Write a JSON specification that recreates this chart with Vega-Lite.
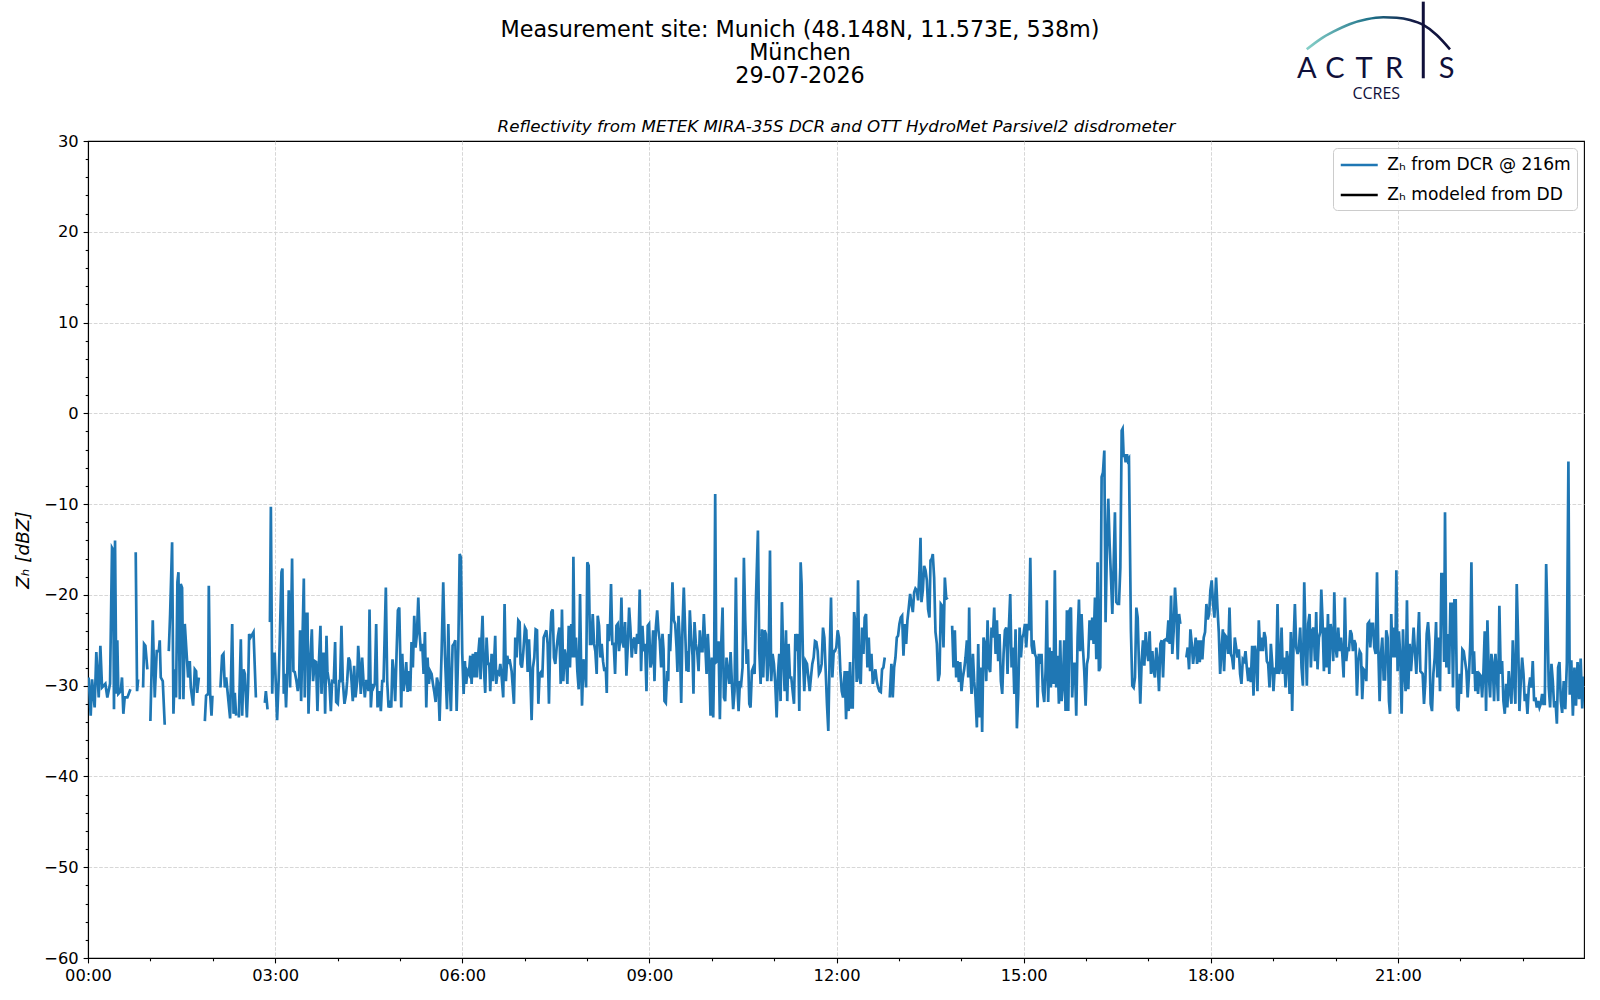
{
  "$schema": "https://vega.github.io/schema/vega-lite/v6.json",
  "description": "Reflectivity from METEK MIRA-35S DCR and OTT HydroMet Parsivel2 disdrometer, Munich 29-07-2026",
  "width": 1496,
  "height": 817,
  "autosize": {"type": "none"},
  "padding": {"left": 88, "top": 141, "right": 16, "bottom": 42},
  "background": "white",
  "title": {
    "text": ["Measurement site: Munich (48.148N, 11.573E, 538m)", "München", "29-07-2026"],
    "font": "DejaVu Sans",
    "fontSize": 22.3,
    "fontWeight": "normal",
    "color": "black",
    "lineHeight": 23,
    "anchor": "middle",
    "frame": "group",
    "dx": -36,
    "dy": 87,
    "offset": 0
  },
  "config": {
    "view": {"stroke": "black", "strokeWidth": 1.1},
    "font": "DejaVu Sans"
  },
  "datasets": {
    "dcr": [
      {"t":0.6,"z":-29.1},{"t":2.6,"z":-33.3},{"t":3.9,"z":-29.3},{"t":6.4,"z":-32.4},{"t":8.0,"z":-26.3},{"t":10.3,"z":-31.3},{"t":11.9,"z":-25.6},{"t":13.5,"z":-30.2},{"t":16.7,"z":-29.8},{"t":18.6,"z":-31.3},{"t":21.2,"z":-29.8},{"t":23.1,"z":-14.8},{"t":24.1,"z":-15.0},{"t":25.0,"z":-32.6},{"t":26.0,"z":-14.0},{"t":27.3,"z":-30.9},{"t":28.2,"z":-25.0},{"t":29.2,"z":-30.9},{"t":31.5,"z":-30.6},{"t":32.7,"z":-29.1},{"t":34.0,"z":-33.1},{"t":35.3,"z":-31.3},{"t":37.9,"z":-31.3},{"t":40.8,"z":-30.4},
      {"t":43,"z":null},
      {"t":45.9,"z":-15.3},{"t":47.2,"z":-30.6},{"t":48.2,"z":-29.3},
      {"t":50,"z":null},
      {"t":53.0,"z":-30.2},{"t":53.9,"z":-25.4},{"t":55.2,"z":-25.6},{"t":57.1,"z":-28.2},
      {"t":58.5,"z":null},
      {"t":60.0,"z":-33.9},{"t":62.3,"z":-22.8},{"t":64.2,"z":-31.3},{"t":66.1,"z":-26.2},{"t":68.1,"z":-26.2},{"t":69.0,"z":-25.0},{"t":70.0,"z":-29.1},{"t":71.9,"z":-29.5},{"t":73.8,"z":-34.3},
      {"t":75.5,"z":null},
      {"t":77.7,"z":-26.2},{"t":79.0,"z":-22.1},{"t":80.9,"z":-14.2},{"t":82.2,"z":-33.1},{"t":83.5,"z":-28.2},{"t":84.7,"z":-31.3},{"t":86.0,"z":-18.6},{"t":87.0,"z":-17.5},{"t":88.3,"z":-31.5},{"t":89.2,"z":-18.8},{"t":90.5,"z":-19.2},{"t":91.8,"z":-31.5},{"t":93.1,"z":-23.2},{"t":94.7,"z":-26.2},{"t":96.3,"z":-29.1},{"t":97.9,"z":-27.3},{"t":98.9,"z":-30.2},{"t":101.1,"z":-32.2},{"t":102.7,"z":-28.2},{"t":104.0,"z":-28.4},{"t":105.0,"z":-30.8},{"t":106.6,"z":-29.1},
      {"t":109,"z":null},
      {"t":112.4,"z":-33.9},{"t":113.6,"z":-31.1},{"t":115.6,"z":-30.9},{"t":116.2,"z":-19.0},{"t":117.5,"z":-30.9},{"t":118.8,"z":-33.3},{"t":119.7,"z":-31.1},
      {"t":123,"z":null},
      {"t":127.4,"z":-30.2},{"t":129.0,"z":-26.7},{"t":130.3,"z":-26.5},{"t":131.6,"z":-30.2},{"t":132.9,"z":-29.1},{"t":136.7,"z":-33.6},{"t":138.7,"z":-23.2},{"t":140.0,"z":-33.1},{"t":141.2,"z":-30.8},{"t":142.5,"z":-33.3},
      {"t":143.8,"z":null},
      {"t":145.1,"z":-33.5},{"t":147.0,"z":-24.9},{"t":148.3,"z":-33.3},{"t":149.6,"z":-28.2},{"t":150.9,"z":-28.7},{"t":152.8,"z":-33.5},{"t":154.1,"z":-29.8},{"t":155.0,"z":-24.3},{"t":156.3,"z":-24.7},{"t":159.2,"z":-24.1},{"t":161.5,"z":-31.3},
      {"t":165,"z":null},
      {"t":170.1,"z":-31.9},{"t":171.1,"z":-30.6},{"t":172.7,"z":-32.6},
      {"t":174,"z":null},
      {"t":175.0,"z":-23.0},{"t":175.9,"z":-10.3},{"t":177.2,"z":-30.9},{"t":178.2,"z":-26.5},
      {"t":179.6,"z":-26.5},{"t":181.9,"z":-33.8},{"t":183.5,"z":-29.1},{"t":186.1,"z":-17.5},{"t":187.0,"z":-17.1},{"t":188.3,"z":-30.9},{"t":189.3,"z":-28.7},{"t":190.5,"z":-32.4},{"t":191.8,"z":-28.0},{"t":193.1,"z":-19.5},{"t":194.4,"z":-30.2},{"t":196.3,"z":-16.0},{"t":197.6,"z":-28.4},{"t":198.9,"z":-28.5},{"t":200.5,"z":-29.5},{"t":201.8,"z":-30.6},{"t":203.1,"z":-29.1},{"t":204.0,"z":-23.9},{"t":205.0,"z":-31.7},{"t":206.3,"z":-25.0},{"t":207.6,"z":-18.2},{"t":208.5,"z":-31.3},{"t":209.8,"z":-22.1},{"t":211.1,"z":-22.1},{"t":212.1,"z":-33.1},{"t":213.7,"z":-27.4},{"t":215.3,"z":-23.8},{"t":216.5,"z":-29.5},{"t":218.2,"z":-27.3},{"t":219.4,"z":-27.4},{"t":220.7,"z":-32.8},{"t":222.3,"z":-26.9},{"t":223.6,"z":-23.4},{"t":224.6,"z":-30.9},{"t":225.9,"z":-26.5},{"t":227.1,"z":-26.5},{"t":228.1,"z":-33.1},{"t":229.4,"z":-24.5},{"t":230.3,"z":-28.4},{"t":232.3,"z":-30.0},{"t":233.6,"z":-32.8},{"t":234.8,"z":-29.5},{"t":236.4,"z":-29.6},{"t":237.7,"z":-25.2},{"t":238.7,"z":-31.8},{"t":240.3,"z":-32.0},{"t":241.6,"z":-29.5},{"t":242.5,"z":-29.5},{"t":243.8,"z":-23.4},{"t":245.1,"z":-29.5},{"t":246.7,"z":-32.0},{"t":248.3,"z":-30.9},{"t":249.3,"z":-29.5},{"t":250.6,"z":-26.9},{"t":251.9,"z":-27.3},{"t":253.5,"z":-29.5},{"t":254.7,"z":-31.7},{"t":256.0,"z":-27.8},{"t":257.3,"z":-31.3},{"t":258.9,"z":-29.5},{"t":259.9,"z":-25.6},{"t":261.2,"z":-28.0},{"t":262.4,"z":-30.9},{"t":263.7,"z":-26.9},{"t":265.0,"z":-29.5},{"t":266.3,"z":-31.3},{"t":267.6,"z":-29.5},{"t":268.9,"z":-29.5},{"t":269.8,"z":-30.6},{"t":270.8,"z":-21.6},{"t":272.1,"z":-32.4},{"t":273.4,"z":-29.8},{"t":274.6,"z":-30.2},{"t":275.9,"z":-29.8},{"t":277.2,"z":-23.2},{"t":278.5,"z":-32.4},{"t":280.1,"z":-30.6},{"t":281.7,"z":-32.8},{"t":283.0,"z":-29.5},{"t":284.3,"z":-29.5},{"t":286.5,"z":-19.2},{"t":287.8,"z":-29.5},{"t":289.1,"z":-32.4},{"t":290.4,"z":-32.0},{"t":291.7,"z":-32.4},{"t":292.9,"z":-27.1},{"t":294.2,"z":-28.7},{"t":295.5,"z":-31.7},{"t":296.8,"z":-26.5},{"t":298.1,"z":-21.7},{"t":299.4,"z":-21.4},{"t":300.3,"z":-26.5},{"t":301.3,"z":-32.4},{"t":302.3,"z":-26.5},{"t":303.5,"z":-30.6},{"t":304.8,"z":-29.5},{"t":306.1,"z":-27.4},{"t":307.4,"z":-30.7},{"t":308.7,"z":-28.4},{"t":310.0,"z":-30.6},{"t":311.2,"z":-25.2},{"t":312.5,"z":-28.0},{"t":313.8,"z":-22.3},{"t":315.1,"z":-25.8},{"t":316.4,"z":-24.3},{"t":317.7,"z":-20.3},{"t":318.9,"z":-24.1},{"t":320.2,"z":-26.2},{"t":321.5,"z":-25.4},{"t":322.8,"z":-28.7},{"t":324.1,"z":-24.1},{"t":325.4,"z":-32.4},{"t":326.6,"z":-26.9},{"t":327.9,"z":-29.8},{"t":329.2,"z":-28.4},{"t":330.5,"z":-28.7},{"t":331.8,"z":-29.8},{"t":333.1,"z":-30.7},{"t":334.4,"z":-31.8},{"t":335.6,"z":-29.1},{"t":336.9,"z":-29.8},{"t":338.2,"z":-33.9},{"t":340.1,"z":-26.5},{"t":341.7,"z":-18.6},{"t":343.3,"z":-26.5},{"t":345.3,"z":-32.6},{"t":346.6,"z":-23.2},{"t":347.8,"z":-29.5},{"t":349.1,"z":-32.8},{"t":350.7,"z":-25.6},{"t":352.0,"z":-25.4},{"t":353.3,"z":-25.0},{"t":354.6,"z":-32.8},{"t":356.2,"z":-25.8},{"t":357.5,"z":-15.5},{"t":358.7,"z":-15.9},{"t":360.0,"z":-26.5},{"t":361.3,"z":-30.9},
      {"t":362.5,"z":-27.3},{"t":363.8,"z":-29.8},{"t":365.1,"z":-28.4},{"t":366.4,"z":-28.7},{"t":367.7,"z":-26.7},{"t":369.0,"z":-29.8},{"t":370.2,"z":-26.5},{"t":371.5,"z":-29.1},{"t":372.8,"z":-26.3},{"t":374.1,"z":-29.1},{"t":375.4,"z":-26.5},{"t":376.7,"z":-24.7},{"t":377.6,"z":-29.3},{"t":378.6,"z":-24.7},{"t":379.5,"z":-22.3},{"t":380.8,"z":-28.0},{"t":382.1,"z":-30.8},{"t":383.4,"z":-24.7},{"t":384.7,"z":-27.6},{"t":386.0,"z":-27.6},{"t":386.9,"z":-30.6},{"t":388.2,"z":-26.5},{"t":389.5,"z":-29.5},{"t":390.8,"z":-26.9},{"t":391.7,"z":-24.5},{"t":392.7,"z":-29.8},{"t":394.0,"z":-28.5},{"t":395.3,"z":-28.7},{"t":396.6,"z":-27.6},{"t":397.8,"z":-28.9},{"t":399.4,"z":-31.3},{"t":400.7,"z":-21.0},{"t":402.0,"z":-29.5},{"t":403.3,"z":-26.7},{"t":404.6,"z":-27.6},{"t":405.5,"z":-27.1},{"t":407.5,"z":-28.4},{"t":409.7,"z":-32.0},{"t":411.0,"z":-24.7},{"t":412.3,"z":-26.9},{"t":413.9,"z":-22.8},{"t":415.2,"z":-23.0},{"t":416.1,"z":-27.6},{"t":417.4,"z":-28.0},{"t":418.7,"z":-26.3},{"t":420.3,"z":-23.6},{"t":421.6,"z":-23.9},{"t":422.9,"z":-28.5},{"t":424.2,"z":-24.9},{"t":425.4,"z":-28.4},{"t":426.7,"z":-33.8},{"t":428.0,"z":-28.0},{"t":429.3,"z":-26.9},{"t":430.6,"z":-23.8},{"t":431.9,"z":-23.9},{"t":433.2,"z":-32.0},{"t":434.4,"z":-28.7},{"t":435.7,"z":-28.5},{"t":437.0,"z":-29.1},{"t":438.3,"z":-24.7},{"t":439.6,"z":-24.3},{"t":440.9,"z":-23.9},{"t":442.1,"z":-25.4},{"t":443.4,"z":-32.0},{"t":444.7,"z":-24.5},{"t":445.7,"z":-21.9},{"t":447.0,"z":-21.6},{"t":448.2,"z":-26.9},{"t":449.5,"z":-27.6},{"t":450.8,"z":-25.8},{"t":452.1,"z":-24.5},{"t":453.4,"z":-23.6},{"t":454.7,"z":-29.8},{"t":455.9,"z":-21.6},{"t":457.2,"z":-29.5},{"t":458.5,"z":-26.0},{"t":459.8,"z":-26.9},{"t":461.1,"z":-29.8},{"t":462.4,"z":-23.4},{"t":463.6,"z":-28.0},{"t":464.9,"z":-23.2},{"t":466.2,"z":-26.9},{"t":466.9,"z":-15.8},{"t":468.1,"z":-26.9},{"t":469.4,"z":-24.7},{"t":470.7,"z":-28.4},{"t":472.0,"z":-30.4},{"t":473.3,"z":-19.9},{"t":474.2,"z":-26.9},{"t":475.2,"z":-32.2},{"t":476.5,"z":-27.1},{"t":477.8,"z":-28.0},{"t":479.1,"z":-30.2},{"t":480.3,"z":-16.4},{"t":481.6,"z":-16.8},{"t":482.9,"z":-25.4},{"t":484.2,"z":-25.4},{"t":485.5,"z":-22.1},{"t":486.8,"z":-25.4},{"t":488.0,"z":-26.2},{"t":489.3,"z":-28.7},{"t":490.3,"z":-22.3},{"t":491.6,"z":-23.4},{"t":492.9,"z":-26.9},{"t":494.1,"z":-25.4},{"t":495.4,"z":-27.3},{"t":496.7,"z":-28.4},{"t":498.0,"z":-28.0},{"t":499.0,"z":-30.8},{"t":499.9,"z":-23.2},{"t":501.2,"z":-25.1},{"t":502.2,"z":-23.2},{"t":503.1,"z":-18.8},{"t":504.4,"z":-25.4},{"t":505.7,"z":-25.4},{"t":507.0,"z":-28.7},{"t":508.3,"z":-23.4},{"t":509.5,"z":-23.2},{"t":510.8,"z":-26.2},{"t":512.1,"z":-24.7},{"t":513.1,"z":-20.3},{"t":514.0,"z":-25.1},{"t":515.3,"z":-25.8},{"t":516.6,"z":-23.0},{"t":517.9,"z":-28.9},{"t":519.2,"z":-25.6},{"t":520.5,"z":-21.4},{"t":521.7,"z":-23.6},{"t":523.0,"z":-26.9},{"t":524.3,"z":-25.1},{"t":525.6,"z":-24.7},{"t":526.9,"z":-26.5},{"t":528.2,"z":-24.3},{"t":529.5,"z":-25.4},{"t":530.7,"z":-19.4},{"t":532.0,"z":-28.4},{"t":533.3,"z":-23.4},{"t":534.6,"z":-26.2},{"t":535.9,"z":-25.4},{"t":537.2,"z":-30.6},{"t":538.4,"z":-23.4},{"t":539.7,"z":-23.2},{"t":541.0,"z":-28.0},{"t":542.3,"z":-27.3},{"t":543.6,"z":-23.9},{"t":544.9,"z":-29.5},
      {"t":546.2,"z":-23.6},{"t":547.5,"z":-21.7},{"t":548.7,"z":-23.9},{"t":550.0,"z":-25.1},{"t":551.3,"z":-28.0},{"t":552.6,"z":-24.3},{"t":553.6,"z":-26.0},{"t":554.5,"z":-31.7},{"t":555.8,"z":-31.9},{"t":557.1,"z":-28.4},{"t":558.1,"z":-29.5},{"t":559.0,"z":-24.3},{"t":560.0,"z":-26.2},{"t":560.9,"z":-23.6},{"t":562.2,"z":-18.6},{"t":563.5,"z":-22.8},{"t":564.8,"z":-23.2},{"t":566.1,"z":-25.8},{"t":567.0,"z":-28.5},{"t":568.0,"z":-22.3},{"t":569.3,"z":-25.1},{"t":570.6,"z":-31.9},{"t":571.9,"z":-23.2},{"t":573.1,"z":-19.2},{"t":574.4,"z":-23.9},{"t":575.7,"z":-28.4},{"t":576.7,"z":-26.2},{"t":577.6,"z":-28.5},{"t":578.9,"z":-21.7},{"t":580.2,"z":-24.7},{"t":581.5,"z":-26.7},{"t":582.4,"z":-30.9},{"t":583.4,"z":-23.0},{"t":584.7,"z":-25.4},{"t":586.0,"z":-26.2},{"t":587.3,"z":-28.4},{"t":588.5,"z":-23.9},{"t":589.8,"z":-26.2},{"t":591.1,"z":-26.2},{"t":592.4,"z":-22.1},{"t":593.7,"z":-25.4},{"t":595.0,"z":-28.7},{"t":596.2,"z":-24.3},{"t":597.5,"z":-27.4},{"t":598.8,"z":-33.3},{"t":600.1,"z":-26.9},{"t":601.4,"z":-33.5},{"t":602.3,"z":-26.9},{"t":603.3,"z":-8.9},{"t":604.3,"z":-27.4},{"t":605.2,"z":-27.3},{"t":606.5,"z":-25.1},{"t":607.8,"z":-33.7},{"t":609.1,"z":-25.4},{"t":610.4,"z":-21.4},{"t":611.7,"z":-31.3},{"t":612.9,"z":-31.7},{"t":614.2,"z":-26.9},{"t":615.5,"z":-28.4},{"t":616.8,"z":-29.8},{"t":618.1,"z":-26.3},{"t":619.4,"z":-29.8},{"t":620.6,"z":-32.6},{"t":621.9,"z":-30.6},{"t":623.2,"z":-18.1},{"t":624.5,"z":-29.8},{"t":625.8,"z":-32.8},{"t":627.1,"z":-29.5},{"t":628.3,"z":-29.8},{"t":629.6,"z":-28.0},{"t":630.9,"z":-15.9},{"t":632.2,"z":-22.8},{"t":633.5,"z":-27.6},{"t":634.8,"z":-26.0},{"t":636.1,"z":-32.0},{"t":637.3,"z":-32.4},{"t":638.6,"z":-28.4},{"t":639.9,"z":-28.0},{"t":641.2,"z":-28.7},{"t":642.5,"z":-20.5},{"t":644.4,"z":-12.9},{"t":645.7,"z":-26.2},{"t":647.0,"z":-29.8},{"t":648.3,"z":-23.8},{"t":649.5,"z":-29.1},{"t":650.8,"z":-23.9},{"t":652.1,"z":-24.3},{"t":653.4,"z":-29.5},{"t":654.7,"z":-27.3},{"t":656.0,"z":-15.1},{"t":657.2,"z":-29.5},{"t":658.5,"z":-26.5},{"t":659.8,"z":-27.6},{"t":661.1,"z":-29.8},{"t":662.4,"z":-33.5},{"t":663.7,"z":-28.7},{"t":664.9,"z":-26.5},{"t":666.2,"z":-31.7},{"t":667.5,"z":-20.8},{"t":668.8,"z":-26.9},{"t":670.1,"z":-30.6},{"t":671.4,"z":-23.9},{"t":672.6,"z":-31.7},{"t":673.9,"z":-25.4},{"t":675.2,"z":-29.1},{"t":676.5,"z":-29.1},{"t":677.8,"z":-30.6},{"t":679.1,"z":-32.0},{"t":680.4,"z":-24.3},{"t":681.6,"z":-26.2},{"t":682.9,"z":-24.3},{"t":684.2,"z":-32.8},{"t":685.5,"z":-16.4},{"t":686.4,"z":-18.8},{"t":687.7,"z":-26.9},{"t":689.0,"z":-30.6},{"t":690.3,"z":-27.3},{"t":691.6,"z":-27.6},{"t":692.9,"z":-29.1},{"t":694.2,"z":-30.6},{"t":695.4,"z":-29.1},{"t":696.7,"z":-27.6},{"t":698.0,"z":-26.9},{"t":699.3,"z":-25.1},{"t":700.6,"z":-25.2},{"t":701.9,"z":-26.2},{"t":703.1,"z":-28.7},{"t":704.4,"z":-28.4},{"t":705.7,"z":-27.6},{"t":707.0,"z":-23.6},{"t":708.3,"z":-24.7},{"t":709.6,"z":-28.4},{"t":710.8,"z":-32.0},{"t":712.1,"z":-35.0},{"t":713.4,"z":-26.7},{"t":714.7,"z":-20.3},{"t":716.0,"z":-29.1},{"t":717.3,"z":-26.2},{"t":718.5,"z":-26.2},{"t":719.8,"z":-25.8},{"t":721.1,"z":-23.9},{"t":722.4,"z":-24.7},{"t":723.7,"z":-28.4},{"t":725.0,"z":-30.6},{"t":726.3,"z":-31.3},
      {"t":727.9,"z":-28.4},{"t":729.2,"z":-33.7},{"t":730.5,"z":-28.4},{"t":731.7,"z":-32.8},{"t":733.0,"z":-27.4},{"t":734.3,"z":-32.4},{"t":735.6,"z":-32.4},{"t":736.9,"z":-21.9},{"t":738.2,"z":-23.2},{"t":739.4,"z":-29.6},{"t":740.7,"z":-18.4},{"t":742.0,"z":-29.1},{"t":743.3,"z":-29.8},{"t":744.6,"z":-23.6},{"t":745.9,"z":-26.5},{"t":747.1,"z":-22.5},{"t":748.4,"z":-22.1},{"t":749.7,"z":-28.0},{"t":751.0,"z":-24.7},{"t":752.3,"z":-28.4},{"t":753.6,"z":-26.5},{"t":754.9,"z":-29.8},{"t":756.1,"z":-29.1},{"t":757.4,"z":-28.2},{"t":758.7,"z":-29.5},{"t":760.0,"z":-30.2},{"t":761.3,"z":-30.6},{"t":762.6,"z":-30.7},{"t":763.8,"z":-28.2},{"t":765.1,"z":-28.0},{"t":766.4,"z":-26.9},
      {"t":768.5,"z":null},
      {"t":771.2,"z":-31.3},{"t":772.8,"z":-27.6},{"t":774.1,"z":-31.3},{"t":775.4,"z":-28.0},{"t":776.7,"z":-26.9},{"t":778.0,"z":-24.7},{"t":779.2,"z":-24.5},{"t":780.5,"z":-23.2},{"t":781.8,"z":-22.5},{"t":783.1,"z":-22.3},{"t":784.4,"z":-26.7},{"t":785.7,"z":-23.2},{"t":787.0,"z":-25.4},{"t":788.2,"z":-22.8},{"t":789.5,"z":-21.4},{"t":790.8,"z":-19.9},{"t":792.1,"z":-21.0},{"t":793.4,"z":-21.9},{"t":794.7,"z":-19.7},{"t":795.9,"z":-19.3},{"t":797.2,"z":-19.5},{"t":798.5,"z":-20.6},{"t":799.8,"z":-17.3},{"t":800.8,"z":-13.7},{"t":801.7,"z":-20.8},{"t":803.0,"z":-19.5},{"t":804.3,"z":-16.8},{"t":805.6,"z":-17.3},{"t":806.9,"z":-18.4},{"t":808.1,"z":-21.6},{"t":809.4,"z":-22.5},{"t":810.4,"z":-16.2},{"t":811.7,"z":-16.0},{"t":812.6,"z":-15.5},{"t":813.9,"z":-18.1},{"t":815.2,"z":-24.1},{"t":816.5,"z":-25.4},{"t":817.8,"z":-29.5},{"t":819.1,"z":-28.7},{"t":820.3,"z":-21.0},{"t":821.6,"z":-21.2},{"t":822.9,"z":-25.8},{"t":824.2,"z":-18.1},{"t":825.5,"z":-20.3},{"t":826.8,"z":-20.5},
      {"t":829,"z":null},
      {"t":831.2,"z":-23.4},{"t":832.5,"z":-28.0},{"t":833.8,"z":-23.9},{"t":835.1,"z":-29.1},{"t":836.4,"z":-27.3},{"t":837.7,"z":-29.6},{"t":839.0,"z":-27.4},{"t":840.2,"z":-30.6},{"t":841.5,"z":-29.1},{"t":842.8,"z":-28.2},{"t":844.1,"z":-26.9},{"t":845.4,"z":-25.0},{"t":846.7,"z":-29.1},{"t":847.6,"z":-21.4},{"t":848.6,"z":-28.0},{"t":849.9,"z":-30.9},{"t":851.2,"z":-26.5},{"t":852.4,"z":-29.5},{"t":853.7,"z":-31.3},{"t":855.0,"z":-34.6},{"t":856.3,"z":-25.4},{"t":857.6,"z":-33.5},{"t":858.9,"z":-28.0},{"t":860.1,"z":-35.1},{"t":861.4,"z":-24.7},{"t":862.7,"z":-25.4},{"t":864.0,"z":-29.5},{"t":865.3,"z":-22.8},{"t":866.6,"z":-28.0},{"t":867.8,"z":-28.5},{"t":869.1,"z":-23.6},{"t":870.4,"z":-24.7},{"t":871.7,"z":-21.4},{"t":873.0,"z":-26.5},{"t":874.3,"z":-22.8},{"t":875.5,"z":-27.3},{"t":876.8,"z":-24.3},{"t":878.1,"z":-29.5},{"t":879.4,"z":-30.9},{"t":880.7,"z":-26.5},{"t":882.0,"z":-23.9},{"t":883.3,"z":-23.6},{"t":884.5,"z":-28.7},{"t":885.8,"z":-23.6},{"t":887.1,"z":-19.9},{"t":888.4,"z":-28.0},{"t":889.7,"z":-25.8},{"t":891.0,"z":-30.9},{"t":892.2,"z":-23.8},{"t":893.5,"z":-34.7},{"t":894.8,"z":-30.9},{"t":896.1,"z":-23.6},{"t":897.4,"z":-26.9},{"t":898.7,"z":-24.7},{"t":899.9,"z":-24.3},{"t":901.2,"z":-23.2},{"t":902.5,"z":-25.8},{"t":903.8,"z":-23.2},{"t":905.1,"z":-23.9},{"t":906.4,"z":-15.9},{"t":907.7,"z":-25.6},{"t":908.9,"z":-26.5},
      {"t":909.5,"z":-25.0},{"t":910.8,"z":-26.5},{"t":912.1,"z":-26.9},{"t":913.4,"z":-32.4},{"t":914.6,"z":-26.5},{"t":915.9,"z":-27.6},{"t":917.2,"z":-26.5},{"t":918.5,"z":-30.6},{"t":919.8,"z":-31.8},{"t":921.1,"z":-28.4},{"t":922.3,"z":-20.6},{"t":923.6,"z":-31.8},{"t":924.9,"z":-25.8},{"t":926.2,"z":-30.2},{"t":927.5,"z":-26.2},{"t":928.8,"z":-29.8},{"t":930.0,"z":-17.3},{"t":931.3,"z":-30.2},{"t":932.6,"z":-26.7},{"t":933.9,"z":-32.0},{"t":935.2,"z":-25.0},{"t":936.5,"z":-31.7},{"t":937.8,"z":-29.8},{"t":939.0,"z":-25.0},{"t":940.3,"z":-32.8},{"t":941.6,"z":-21.7},{"t":942.9,"z":-32.8},{"t":944.2,"z":-21.7},{"t":945.5,"z":-21.4},{"t":946.7,"z":-31.3},{"t":948.0,"z":-27.6},{"t":949.3,"z":-27.6},{"t":950.6,"z":-33.3},{"t":951.9,"z":-24.7},{"t":953.2,"z":-20.5},{"t":954.4,"z":-26.2},{"t":955.7,"z":-22.1},{"t":957.0,"z":-25.8},{"t":958.3,"z":-28.4},{"t":959.6,"z":-32.2},{"t":960.9,"z":-27.6},{"t":962.1,"z":-26.9},{"t":963.4,"z":-22.8},{"t":964.7,"z":-25.0},{"t":966.0,"z":-22.5},{"t":967.3,"z":-25.4},{"t":968.6,"z":-20.3},{"t":969.9,"z":-27.1},{"t":971.1,"z":-16.4},{"t":972.4,"z":-28.4},{"t":973.7,"z":-28.0},{"t":975.0,"z":-7.0},{"t":976.3,"z":-6.5},{"t":977.6,"z":-4.1},{"t":978.8,"z":-23.0},{"t":980.1,"z":-14.8},{"t":981.4,"z":-9.4},{"t":982.7,"z":-14.4},{"t":984.0,"z":-18.1},{"t":985.3,"z":-22.1},{"t":986.5,"z":-17.0},{"t":987.8,"z":-10.9},{"t":989.1,"z":-20.8},{"t":990.4,"z":-21.0},{"t":991.7,"z":-21.0},{"t":993.0,"z":-17.0},{"t":994.3,"z":-1.9},{"t":995.2,"z":-1.7},{"t":996.2,"z":-4.8},{"t":997.1,"z":-4.5},{"t":998.1,"z":-5.4},{"t":999.4,"z":-4.5},{"t":1000.3,"z":-5.2},{"t":1001.3,"z":-5.0},{"t":1003.2,"z":-24.0},{"t":1004.5,"z":-30.0},{"t":1005.8,"z":-30.2},{"t":1007.1,"z":-29.1},{"t":1008.4,"z":-21.4},{"t":1009.7,"z":-22.5},{"t":1010.9,"z":-27.6},{"t":1012.2,"z":-32.0},{"t":1013.5,"z":-27.3},{"t":1014.8,"z":-25.0},{"t":1016.1,"z":-27.8},{"t":1017.4,"z":-24.1},{"t":1018.6,"z":-26.2},{"t":1019.9,"z":-27.3},{"t":1021.2,"z":-24.0},{"t":1022.5,"z":-28.7},{"t":1023.8,"z":-26.2},{"t":1025.1,"z":-28.4},{"t":1026.3,"z":-29.1},{"t":1027.6,"z":-25.8},{"t":1028.9,"z":-27.3},{"t":1030.2,"z":-30.6},{"t":1031.5,"z":-25.4},{"t":1032.8,"z":-25.0},{"t":1034.1,"z":-29.1},{"t":1035.3,"z":-25.0},{"t":1036.6,"z":-24.9},{"t":1037.9,"z":-25.0},{"t":1039.2,"z":-22.8},{"t":1040.5,"z":-25.4},{"t":1041.8,"z":-20.1},{"t":1043.0,"z":-26.5},{"t":1044.3,"z":-24.0},{"t":1045.6,"z":-19.2},{"t":1046.9,"z":-21.7},{"t":1048.2,"z":-27.1},{"t":1049.5,"z":-22.1},{"t":1050.7,"z":-23.2},
      {"t":1053.5,"z":null},
      {"t":1056.5,"z":-26.9},{"t":1057.8,"z":-25.8},{"t":1059.1,"z":-28.2},{"t":1060.4,"z":-23.8},{"t":1061.7,"z":-25.4},{"t":1063.0,"z":-27.6},{"t":1064.2,"z":-26.2},{"t":1065.5,"z":-24.7},{"t":1066.8,"z":-27.6},{"t":1068.1,"z":-25.0},{"t":1069.4,"z":-27.4},{"t":1070.6,"z":-25.0},{"t":1071.9,"z":-27.1},{"t":1073.2,"z":-24.7},{"t":1074.5,"z":-24.1},{"t":1075.8,"z":-21.0},{"t":1077.1,"z":-22.7},{"t":1078.4,"z":-22.1},{"t":1079.6,"z":-19.5},{"t":1080.9,"z":-18.4},{"t":1082.2,"z":-21.0},{"t":1083.5,"z":-22.5},
      {"t":1085.1,"z":-18.1},{"t":1086.4,"z":-21.4},{"t":1087.7,"z":-24.1},{"t":1089.0,"z":-28.7},{"t":1090.3,"z":-26.2},{"t":1091.6,"z":-23.8},{"t":1092.8,"z":-28.4},{"t":1094.1,"z":-24.5},{"t":1095.4,"z":-24.7},{"t":1096.7,"z":-26.5},{"t":1098.0,"z":-21.4},{"t":1099.3,"z":-26.5},{"t":1100.5,"z":-26.9},{"t":1101.8,"z":-28.2},{"t":1103.1,"z":-24.7},{"t":1104.4,"z":-25.8},{"t":1105.7,"z":-26.9},{"t":1107.0,"z":-26.0},{"t":1108.2,"z":-28.7},{"t":1109.5,"z":-29.8},{"t":1110.8,"z":-27.1},{"t":1112.1,"z":-27.3},{"t":1113.4,"z":-26.2},{"t":1114.7,"z":-28.0},{"t":1116.0,"z":-29.5},{"t":1117.2,"z":-28.0},{"t":1118.5,"z":-29.6},{"t":1119.8,"z":-25.6},{"t":1121.1,"z":-31.1},{"t":1122.4,"z":-25.6},{"t":1123.7,"z":-26.5},{"t":1124.9,"z":-30.6},{"t":1126.2,"z":-22.8},{"t":1127.5,"z":-26.2},{"t":1128.8,"z":-24.7},{"t":1130.1,"z":-26.2},{"t":1131.4,"z":-24.1},{"t":1132.6,"z":-24.7},{"t":1133.9,"z":-27.3},{"t":1135.2,"z":-27.6},{"t":1136.5,"z":-30.2},{"t":1137.8,"z":-25.4},{"t":1139.1,"z":-27.6},{"t":1140.3,"z":-30.6},{"t":1141.6,"z":-28.0},{"t":1142.9,"z":-28.7},{"t":1144.2,"z":-21.0},{"t":1145.5,"z":-28.7},{"t":1146.8,"z":-28.0},{"t":1148.1,"z":-23.6},{"t":1149.3,"z":-28.7},{"t":1150.6,"z":-26.9},{"t":1151.9,"z":-30.2},{"t":1153.2,"z":-26.2},{"t":1154.5,"z":-27.3},{"t":1155.8,"z":-30.9},{"t":1157.0,"z":-24.1},{"t":1158.3,"z":-32.8},{"t":1159.6,"z":-25.4},{"t":1160.9,"z":-21.0},{"t":1162.2,"z":-25.8},{"t":1163.5,"z":-26.5},{"t":1164.7,"z":-26.0},{"t":1166.0,"z":-23.6},{"t":1167.3,"z":-28.0},{"t":1168.6,"z":-30.0},{"t":1169.9,"z":-18.6},{"t":1171.2,"z":-25.0},{"t":1172.4,"z":-30.0},{"t":1173.7,"z":-23.2},{"t":1175.0,"z":-22.1},{"t":1176.3,"z":-28.0},{"t":1177.6,"z":-23.9},{"t":1178.9,"z":-23.6},{"t":1180.2,"z":-27.3},{"t":1181.4,"z":-21.9},{"t":1182.7,"z":-28.2},{"t":1184.0,"z":-24.7},{"t":1185.3,"z":-24.1},{"t":1186.3,"z":-19.4},{"t":1187.5,"z":-22.8},{"t":1188.8,"z":-28.4},{"t":1190.1,"z":-23.6},{"t":1191.4,"z":-28.0},{"t":1192.7,"z":-22.1},{"t":1194.0,"z":-28.7},{"t":1195.2,"z":-23.2},{"t":1196.5,"z":-24.3},{"t":1197.8,"z":-27.3},{"t":1198.8,"z":-19.7},{"t":1200.1,"z":-25.8},{"t":1201.3,"z":-26.9},{"t":1202.6,"z":-23.6},{"t":1203.9,"z":-26.2},{"t":1205.2,"z":-24.7},{"t":1206.5,"z":-26.5},{"t":1207.8,"z":-29.1},{"t":1209.0,"z":-20.3},{"t":1210.3,"z":-27.3},{"t":1211.6,"z":-25.8},{"t":1212.9,"z":-26.2},{"t":1214.2,"z":-23.9},{"t":1215.5,"z":-24.3},{"t":1216.7,"z":-26.2},{"t":1218.0,"z":-25.0},{"t":1219.3,"z":-25.4},{"t":1220.6,"z":-31.1},{"t":1221.9,"z":-27.3},{"t":1223.2,"z":-26.2},{"t":1224.5,"z":-26.5},{"t":1225.7,"z":-31.5},{"t":1227.0,"z":-28.2},{"t":1228.3,"z":-28.4},{"t":1229.6,"z":-29.5},{"t":1230.9,"z":-23.2},{"t":1232.2,"z":-23.0},{"t":1233.4,"z":-25.8},{"t":1234.7,"z":-23.2},{"t":1236.0,"z":-23.2},{"t":1237.3,"z":-25.8},{"t":1238.6,"z":-26.5},{"t":1239.9,"z":-17.5},{"t":1241.1,"z":-25.8},{"t":1242.4,"z":-31.7},{"t":1243.7,"z":-26.5},{"t":1245.0,"z":-24.7},{"t":1246.3,"z":-29.3},{"t":1247.6,"z":-29.3},{"t":1248.8,"z":-23.9},{"t":1250.1,"z":-24.7},{"t":1251.4,"z":-31.7},
      {"t":1252.4,"z":-33.1},{"t":1253.6,"z":-22.1},{"t":1254.9,"z":-26.9},{"t":1256.2,"z":-23.6},{"t":1257.5,"z":-26.9},{"t":1258.5,"z":-17.3},{"t":1259.7,"z":-28.4},{"t":1261.0,"z":-24.0},{"t":1262.3,"z":-26.9},{"t":1263.6,"z":-33.1},{"t":1264.9,"z":-23.8},{"t":1266.2,"z":-28.7},{"t":1267.4,"z":-30.6},{"t":1268.7,"z":-20.6},{"t":1270.0,"z":-30.4},{"t":1271.3,"z":-25.4},{"t":1272.6,"z":-28.4},{"t":1273.9,"z":-26.2},{"t":1275.1,"z":-23.6},{"t":1276.4,"z":-26.2},{"t":1277.7,"z":-28.7},{"t":1279.0,"z":-25.4},{"t":1280.3,"z":-21.9},{"t":1281.6,"z":-28.4},{"t":1283.8,"z":-28.7},{"t":1285.1,"z":-32.0},{"t":1286.4,"z":-29.5},{"t":1287.7,"z":-24.3},{"t":1289.0,"z":-23.0},{"t":1290.2,"z":-25.0},{"t":1291.5,"z":-32.0},{"t":1292.8,"z":-32.8},{"t":1294.1,"z":-28.7},{"t":1295.4,"z":-26.9},{"t":1296.7,"z":-23.0},{"t":1297.9,"z":-29.1},{"t":1299.2,"z":-24.7},{"t":1300.5,"z":-30.6},{"t":1301.8,"z":-17.7},{"t":1303.1,"z":-17.7},{"t":1304.4,"z":-27.4},{"t":1305.3,"z":-10.9},{"t":1306.6,"z":-28.0},{"t":1307.9,"z":-24.3},{"t":1309.2,"z":-28.7},{"t":1310.5,"z":-21.0},{"t":1311.7,"z":-21.0},{"t":1313.0,"z":-30.2},{"t":1314.3,"z":-20.6},{"t":1315.6,"z":-20.6},{"t":1316.9,"z":-32.4},{"t":1318.2,"z":-32.8},{"t":1319.4,"z":-28.7},{"t":1320.7,"z":-30.9},{"t":1322.0,"z":-26.0},{"t":1323.3,"z":-26.2},{"t":1324.6,"z":-27.3},{"t":1325.9,"z":-28.4},{"t":1327.1,"z":-31.3},{"t":1328.4,"z":-28.7},{"t":1329.7,"z":-25.0},{"t":1330.7,"z":-16.4},{"t":1332.0,"z":-28.7},{"t":1333.2,"z":-26.2},{"t":1334.5,"z":-30.6},{"t":1335.8,"z":-28.4},{"t":1337.1,"z":-30.9},{"t":1338.4,"z":-28.7},{"t":1339.7,"z":-28.9},{"t":1341.0,"z":-31.3},{"t":1342.2,"z":-28.7},{"t":1343.5,"z":-24.0},{"t":1344.8,"z":-32.8},{"t":1346.1,"z":-22.8},{"t":1347.4,"z":-28.7},{"t":1348.7,"z":-31.3},{"t":1349.9,"z":-26.5},{"t":1351.2,"z":-27.6},{"t":1352.5,"z":-31.7},{"t":1353.8,"z":-26.5},{"t":1355.1,"z":-28.7},{"t":1356.4,"z":-31.7},{"t":1357.6,"z":-21.2},{"t":1358.9,"z":-28.7},{"t":1360.2,"z":-27.3},{"t":1361.5,"z":-31.7},{"t":1362.8,"z":-33.1},{"t":1364.1,"z":-29.8},{"t":1365.3,"z":-32.4},{"t":1366.6,"z":-28.4},{"t":1367.9,"z":-30.6},{"t":1369.2,"z":-32.0},{"t":1370.5,"z":-25.0},{"t":1371.8,"z":-29.5},{"t":1373.0,"z":-32.0},{"t":1374.3,"z":-18.8},{"t":1375.6,"z":-24.7},{"t":1376.9,"z":-32.8},{"t":1378.2,"z":-29.5},{"t":1379.5,"z":-26.9},{"t":1380.8,"z":-28.7},{"t":1382.0,"z":-31.7},{"t":1383.3,"z":-30.9},{"t":1384.6,"z":-33.1},{"t":1385.9,"z":-30.2},{"t":1387.2,"z":-29.1},{"t":1388.5,"z":-30.2},{"t":1389.7,"z":-27.3},{"t":1391.0,"z":-31.7},{"t":1392.3,"z":-31.3},{"t":1393.6,"z":-32.4},{"t":1394.9,"z":-31.7},{"t":1396.2,"z":-32.4},{"t":1397.4,"z":-32.0},{"t":1398.7,"z":-30.9},{"t":1400.0,"z":-32.0},{"t":1401.3,"z":-32.0},{"t":1402.6,"z":-16.6},{"t":1403.9,"z":-22.8},{"t":1405.1,"z":-30.2},{"t":1406.4,"z":-32.4},{"t":1407.7,"z":-27.6},{"t":1409.0,"z":-29.5},{"t":1410.3,"z":-32.4},{"t":1411.6,"z":-31.7},{"t":1412.9,"z":-34.2},{"t":1414.1,"z":-28.0},{"t":1415.4,"z":-27.4},{"t":1416.7,"z":-31.7},
      {"t":1418.0,"z":-33.0},{"t":1419.5,"z":-29.5},{"t":1421.0,"z":-32.6},{"t":1422.5,"z":-27.5},{"t":1424.0,"z":-5.3},{"t":1425.3,"z":-31.0},{"t":1426.8,"z":-27.2},{"t":1428.3,"z":-33.3},{"t":1429.8,"z":-28.0},{"t":1431.3,"z":-32.2},{"t":1432.8,"z":-27.4},{"t":1434.3,"z":-31.5},{"t":1435.8,"z":-27.0},{"t":1437.3,"z":-32.5},{"t":1438.8,"z":-29.0}
    ],
    "arc": [
      {"t":1172.3,"z":40.10},{"t":1185.1,"z":41.20},{"t":1197.9,"z":42.04},{"t":1214.0,"z":42.89},{"t":1230.0,"z":43.41},{"t":1246.0,"z":43.63},{"t":1258.8,"z":43.58},{"t":1271.6,"z":43.33},{"t":1284.4,"z":42.78},{"t":1297.3,"z":41.68},{"t":1310.1,"z":40.10}
    ],
    "bar": [{"t":1284.4,"z":36.91,"z2":45.35}],
    "letters": [
      {"t":1172.3,"z":36.91,"label":"A"},{"t":1199.5,"z":36.91,"label":"C"},{"t":1227.4,"z":36.91,"label":"T"},{"t":1256.2,"z":36.91,"label":"R"},{"t":1306.9,"z":36.91,"label":"S"}
    ],
    "logosub": [{"t":1239.2,"z":34.63,"label":"CCRES"}]
  },
  "resolve": {"axis": {"x": "independent", "y": "independent"}},
  "layer": [
    {
      "data": {"name": "dcr"},
      "mark": {"type": "line", "strokeWidth": 2.7, "invalid": "break-paths-filter-domains", "clip": true},
      "encoding": {
        "x": {
          "field": "t", "type": "quantitative",
          "scale": {"domain": [0, 1439], "nice": false, "zero": false},
          "axis": {
            "title": null,
            "values": [0,60,120,180,240,300,360,420,480,540,600,660,720,780,840,900,960,1020,1080,1140,1200,1260,1320,1380],
            "labelExpr": "datum.value % 180 === 0 ? (datum.value < 600 ? '0' : '') + (datum.value / 60) + ':00' : ''",
            "labelFont": "DejaVu Sans", "labelFontSize": 16.3, "labelColor": "black",
            "labelPadding": 5, "labelFlush": false, "labelOverlap": false,
            "domainColor": "black", "domainWidth": 1.1,
            "tickColor": "black", "tickWidth": 1.1,
            "tickSize": {"condition": {"test": "datum.value % 180 === 0", "value": 4.9}, "value": 2.8},
            "grid": true, "gridColor": "#d3d3d3", "gridDash": [3.7, 1.6], "gridWidth": 0.9,
            "gridOpacity": {"condition": {"test": "datum.value % 180 === 0 && datum.value > 0", "value": 1}, "value": 0}
          }
        },
        "y": {
          "field": "z", "type": "quantitative",
          "scale": {"domain": [-60, 30], "nice": false, "zero": false},
          "axis": {
            "title": "Zₕ [dBZ]",
            "titleFont": "DejaVu Sans", "titleFontSize": 18.5, "titleFontStyle": "italic", "titleFontWeight": "normal", "titleColor": "black", "titlePadding": 11,
            "values": [-60,-58,-56,-54,-52,-50,-48,-46,-44,-42,-40,-38,-36,-34,-32,-30,-28,-26,-24,-22,-20,-18,-16,-14,-12,-10,-8,-6,-4,-2,0,2,4,6,8,10,12,14,16,18,20,22,24,26,28,30],
            "labelExpr": "datum.value % 10 === 0 ? datum.label : ''",
            "labelFont": "DejaVu Sans", "labelFontSize": 16.3, "labelColor": "black",
            "labelPadding": 5, "labelFlush": false, "labelOverlap": false,
            "domainColor": "black", "domainWidth": 1.1,
            "tickColor": "black", "tickWidth": 1.1,
            "tickSize": {"condition": {"test": "datum.value % 10 === 0", "value": 4.9}, "value": 2.8},
            "grid": true, "gridColor": "#d3d3d3", "gridDash": [3.7, 1.6], "gridWidth": 0.9,
            "gridOpacity": {"condition": {"test": "datum.value % 10 === 0 && datum.value > -60 && datum.value < 30", "value": 1}, "value": 0}
          }
        },
        "color": {
          "datum": "Zₕ from DCR @ 216m", "type": "nominal",
          "scale": {"domain": ["Zₕ from DCR @ 216m", "Zₕ modeled from DD"], "range": ["#1f77b4", "#000000"]},
          "legend": {
            "title": null, "orient": "top-right", "offset": 7,
            "symbolType": "M-2,0H2", "symbolSize": 342, "symbolOffset": 9.25, "symbolStrokeWidth": 2.7,
            "labelFont": "DejaVu Sans", "labelFontSize": 17.1, "labelColor": "black", "labelOffset": 17, "labelLimit": 400,
            "fillColor": "rgba(255,255,255,0.8)", "strokeColor": "#cccccc", "cornerRadius": 4,
            "padding": 6, "rowPadding": 10
          }
        }
      }
    },
    {
      "data": {"name": "arc"},
      "mark": {
        "type": "line", "strokeWidth": 2.6, "interpolate": "monotone",
        "stroke": {"gradient": "linear", "x1": 0, "x2": 1, "y1": 0, "y2": 0,
          "stops": [{"offset": 0, "color": "#86d0c8"}, {"offset": 0.45, "color": "#1d7088"}, {"offset": 0.75, "color": "#141a45"}, {"offset": 1, "color": "#10103a"}]}
      },
      "encoding": {
        "x": {
          "field": "t", "type": "quantitative",
          "scale": {"domain": [0, 1439], "nice": false, "zero": false},
          "axis": {
            "orient": "top", "labels": false, "ticks": false, "domain": false, "grid": false,
            "title": "Reflectivity from METEK MIRA-35S DCR and OTT HydroMet Parsivel2 disdrometer",
            "titleFont": "DejaVu Sans", "titleFontSize": 16.7, "titleFontStyle": "italic", "titleFontWeight": "normal", "titleColor": "black", "titlePadding": 6
          }
        },
        "y": {"field": "z", "type": "quantitative", "scale": {"domain": [-60, 30], "nice": false, "zero": false}, "axis": null}
      }
    },
    {
      "data": {"name": "bar"},
      "mark": {"type": "rule", "strokeWidth": 3, "color": "#10103a"},
      "encoding": {
        "x": {"field": "t", "type": "quantitative", "scale": {"domain": [0, 1439], "nice": false, "zero": false}, "axis": null},
        "y": {"field": "z", "type": "quantitative", "scale": {"domain": [-60, 30], "nice": false, "zero": false}, "axis": null},
        "y2": {"field": "z2"}
      }
    },
    {
      "data": {"name": "letters"},
      "mark": {"type": "text", "font": "Lato", "fontSize": 29, "color": "#10103a", "baseline": "alphabetic", "align": "center"},
      "encoding": {
        "x": {"field": "t", "type": "quantitative", "scale": {"domain": [0, 1439], "nice": false, "zero": false}, "axis": null},
        "y": {"field": "z", "type": "quantitative", "scale": {"domain": [-60, 30], "nice": false, "zero": false}, "axis": null},
        "text": {"field": "label"}
      }
    },
    {
      "data": {"name": "logosub"},
      "mark": {"type": "text", "font": "Open Sans", "fontSize": 16, "color": "#10103a", "baseline": "alphabetic", "align": "center"},
      "encoding": {
        "x": {"field": "t", "type": "quantitative", "scale": {"domain": [0, 1439], "nice": false, "zero": false}, "axis": null},
        "y": {"field": "z", "type": "quantitative", "scale": {"domain": [-60, 30], "nice": false, "zero": false}, "axis": null},
        "text": {"field": "label"}
      }
    }
  ]
}
